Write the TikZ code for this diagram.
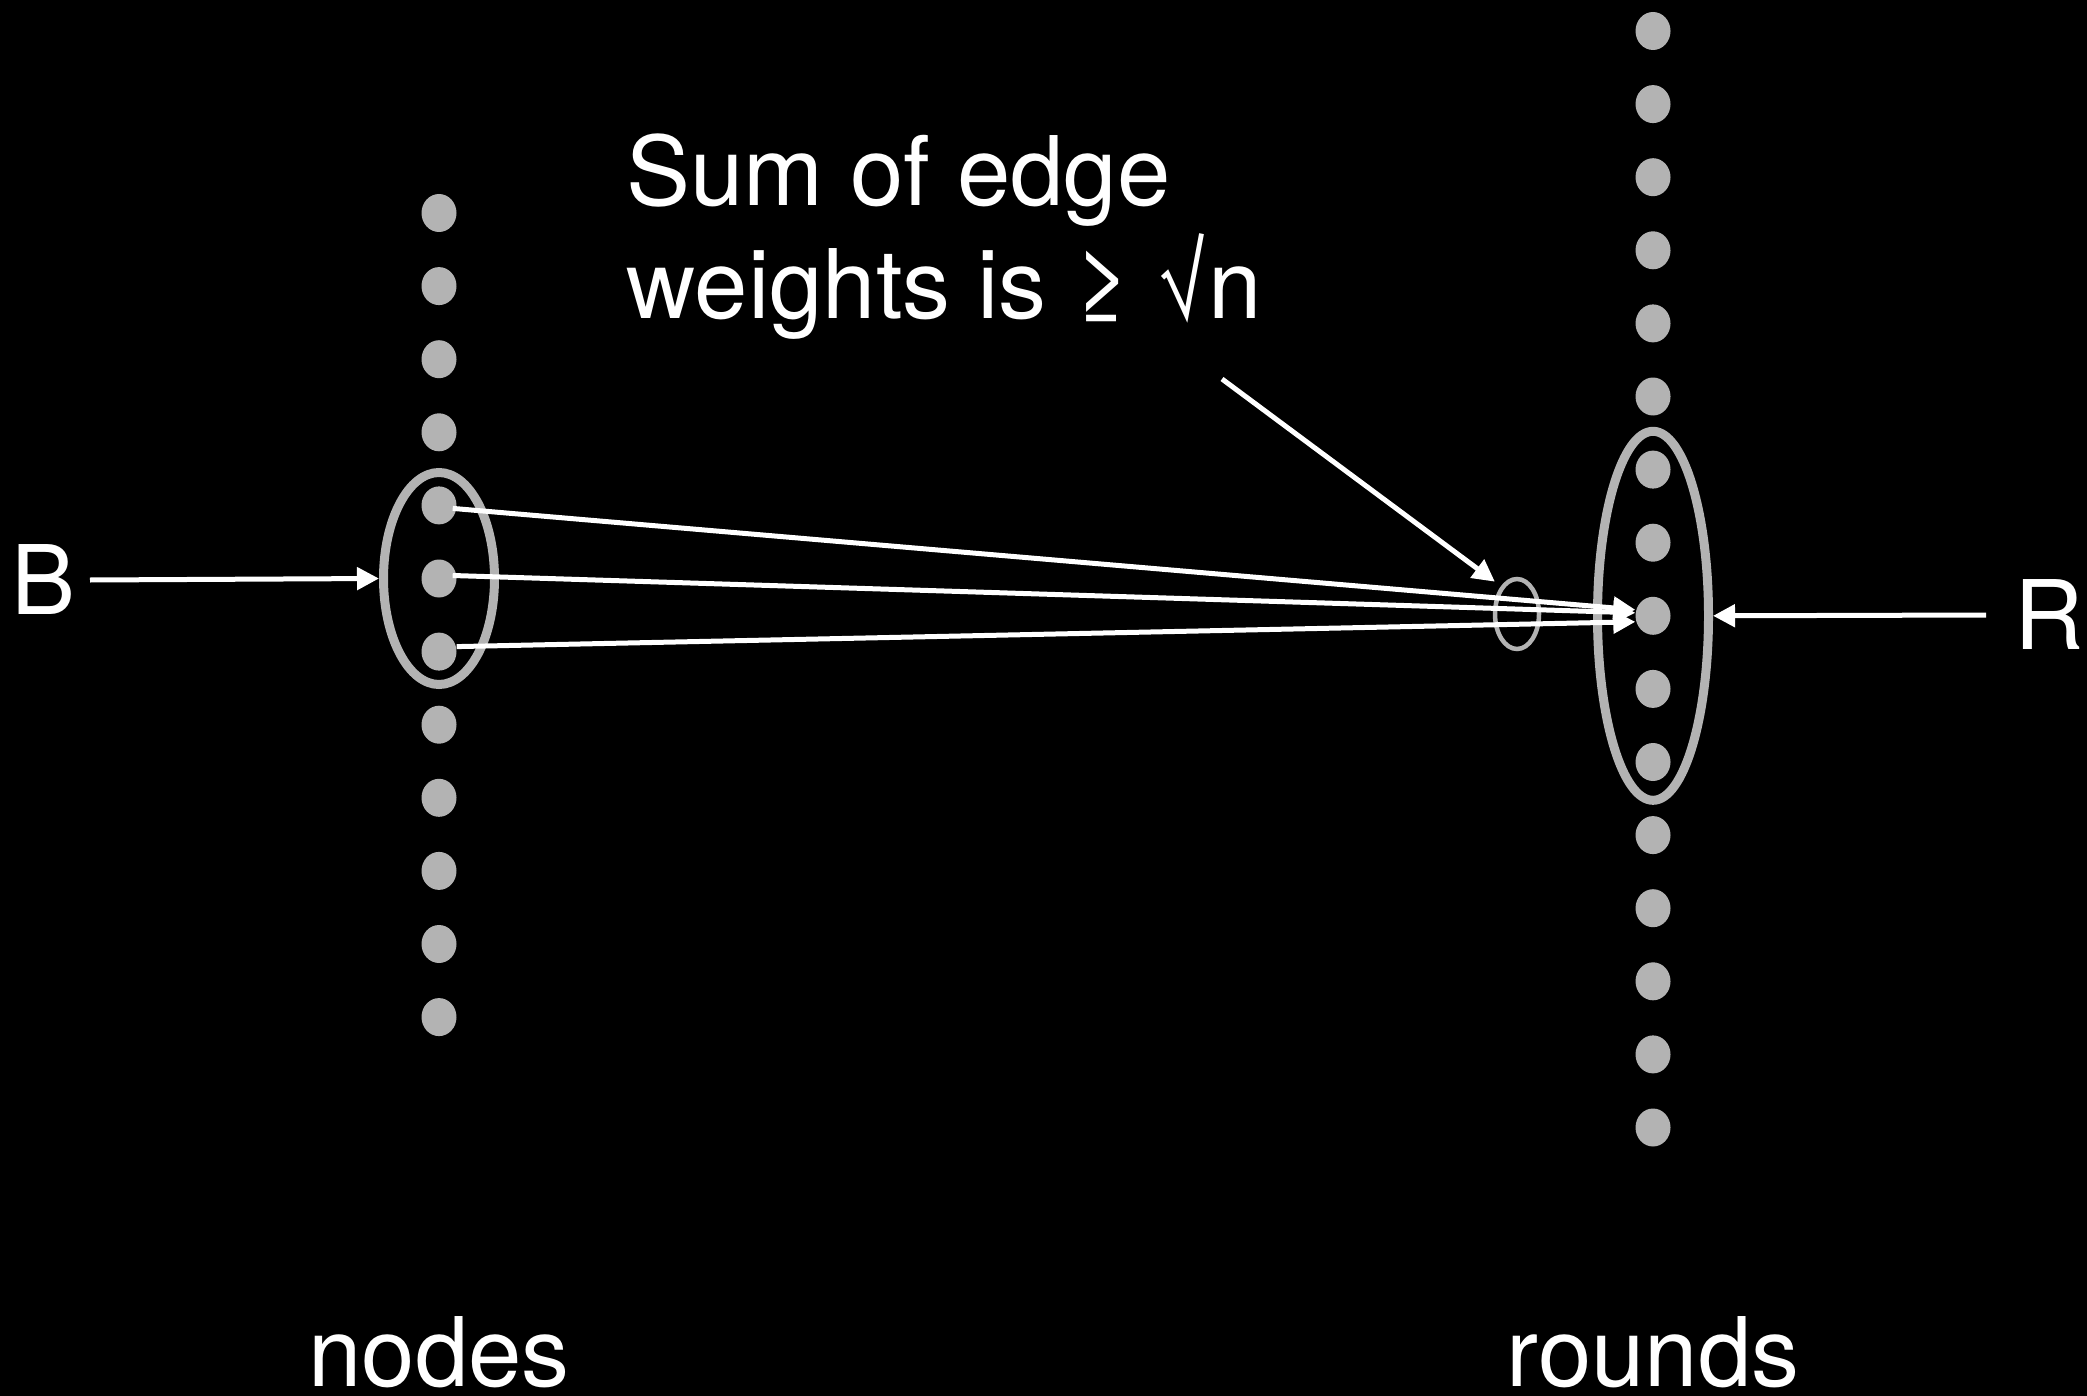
\documentclass[tikz,border=0pt]{standalone}
\usepackage{fontspec}
\setmainfont{TeX Gyre Heros}
\usetikzlibrary{shapes.geometric,arrows.meta,calc}
\definecolor{dotgray}{RGB}{179,179,179}
\tikzset{
  dot/.style={ellipse,fill=dotgray,inner sep=0pt,minimum width=35pt,minimum height=38pt},
  ring/.style={ellipse,draw=dotgray,line width=9pt,inner sep=0pt},
  smallring/.style={ellipse,draw=dotgray,line width=4.5pt,inner sep=0pt},
  lbl/.style={text=white,inner sep=0pt,font=\fontsize{96}{113}\selectfont},
  arr/.style={draw=white,line width=5pt,-{Triangle[length=22pt,width=22pt]}},
}
\begin{document}
\begin{tikzpicture}[x=1pt,y=-1pt]
\fill[black] (0,0) rectangle (2087,1396);
\useasboundingbox (0,0) rectangle (2087,1396);
% left column
\foreach \k in {1,...,12}{
  \node[dot] (L\k) at (439,{213+73.1*(\k-1)}) {};
}
% right column
\foreach \k in {1,...,16}{
  \node[dot] (R\k) at (1653,{31+73.1*(\k-1)}) {};
}
\node[ring,minimum width=111pt,minimum height=212pt] (ellB) at (L6) {};
\node[ring,minimum width=111pt,minimum height=369pt] (ellR) at (R9) {};
\node[smallring,minimum width=44pt,minimum height=70pt] (ellS) at (1517,614) {};
% labels
\node[lbl,anchor=center] (B) at (44,580) {B};
\node[lbl,anchor=center] (R) at (2049,615) {R};
\node[lbl,anchor=base] (nodes) at (439,1386) {nodes};
\node[lbl,anchor=base] (rounds) at (1653,1386) {rounds};
\node[lbl,anchor=base west,align=left] (sum) at (626,319) {Sum of edge\\weights is ≥ √n};
% connectors
\coordinate (Bstart) at (90,580);
\coordinate (Rstart) at (1986,615);
\coordinate (Pstart) at (1222,379);
\draw[arr] (Bstart) -- (ellB.west);
\draw[arr] (Rstart) -- (ellR.east);
\draw[arr] (Pstart) -- ($(ellS.north west)+(-5,-6)$);
\draw[arr] ($(L5.east)+(-4,3)$) -- ($(R9.west)+(0,-6)$);
\draw[arr] ($(L6.east)+(-4,-3)$) -- ($(R9.west)+(0,-3)$);
\draw[arr] ($(L7.east)+(0,-5)$) -- ($(R9.west)+(0,6)$);
\end{tikzpicture}
\end{document}
